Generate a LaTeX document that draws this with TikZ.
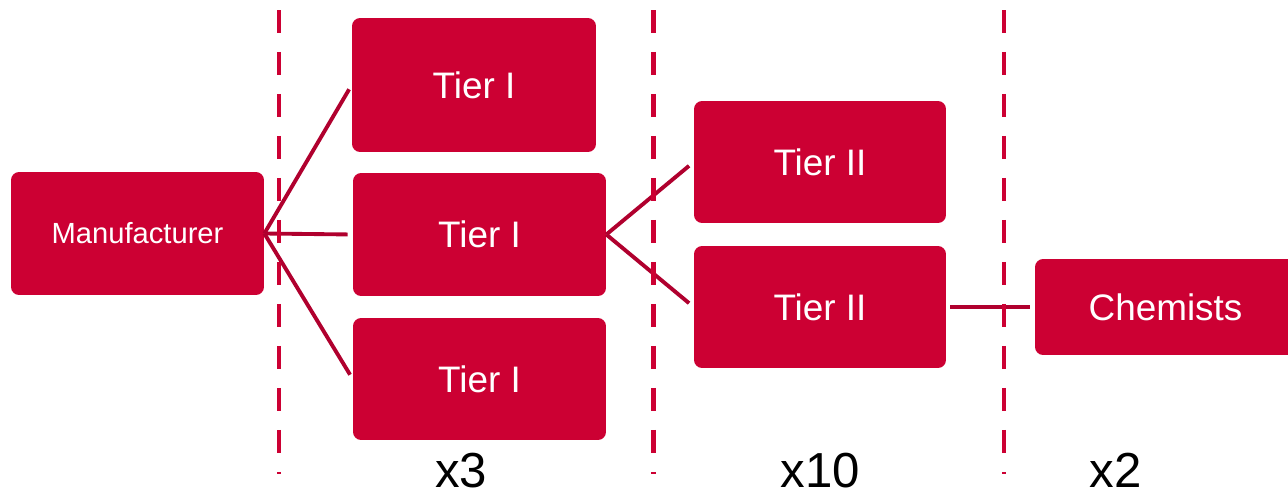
\documentclass[tikz,border=0pt]{standalone}
\usepackage{fontspec}
\setmainfont{Liberation Sans}
\definecolor{boxred}{HTML}{CC0033}
\definecolor{linkred}{HTML}{B0002E}
\definecolor{guidered}{HTML}{CC0033}
\begin{document}
\begin{tikzpicture}[x=0.02cm,y=-0.02cm,
  box/.style={draw=none, fill=boxred, rounded corners=0.16cm, text=white,
    inner sep=0pt, font=\fontsize{21}{25}\selectfont},
  link/.style={draw=linkred, line width=2.2pt},
  guide/.style={draw=guidered, line width=2.8pt, dash pattern=on 0.47cm off 0.37cm},
  count/.style={anchor=base, text=black, inner sep=0pt, font=\fontsize{28}{33}\selectfont}]
  \useasboundingbox (0,0) rectangle (1288,494);

  % stages of the supply chain
  \node[box, minimum width=5.06cm, minimum height=2.46cm, font=\fontsize{16.6}{20}\selectfont]
    (man) at (137.5,233.5) {Manufacturer};
  \node[box, minimum width=4.88cm, minimum height=2.68cm] (t1a) at (474,85) {Tier I};
  \node[box, minimum width=5.06cm, minimum height=2.46cm] (t1b) at (479.5,234.5) {Tier I};
  \node[box, minimum width=5.06cm, minimum height=2.44cm] (t1c) at (479.5,379) {Tier I};
  \node[box, minimum width=5.04cm, minimum height=2.44cm] (t2a) at (820,162) {Tier II};
  \node[box, minimum width=5.04cm, minimum height=2.44cm] (t2b) at (820,307) {Tier II};
  \node[box, minimum width=5.22cm, minimum height=1.92cm] (chem) at (1165.5,307) {Chemists};

  % distribution links
  \draw[link, shorten >=0.1cm] (man.east) -- (t1a.west);
  \draw[link, shorten >=0.1cm] (man.east) -- (t1b.west);
  \draw[link, shorten >=0.1cm] (man.east) -- (t1c.west);
  \draw[link, shorten >=0.12cm] (t1b.east) -- (t2a.west);
  \draw[link, shorten >=0.12cm] (t1b.east) -- (t2b.west);
  \draw[link, shorten <=0.08cm, shorten >=0.1cm] (t2b.east) -- (chem.west);

  % stage separators
  \coordinate (g1t) at (279,10);    \coordinate (g1b) at (279,474);
  \coordinate (g2t) at (653.5,10);  \coordinate (g2b) at (653.5,474);
  \coordinate (g3t) at (1004,10);   \coordinate (g3b) at (1004,474);
  \draw[guide] (g1t) -- (g1b);
  \draw[guide] (g2t) -- (g2b);
  \draw[guide] (g3t) -- (g3b);

  % multiplicities
  \node[count] (n1) at (461,487) {x3};
  \node[count] (n2) at (820.5,487) {x10};
  \node[count] (n3) at (1115.5,487) {x2};
\end{tikzpicture}
\end{document}
